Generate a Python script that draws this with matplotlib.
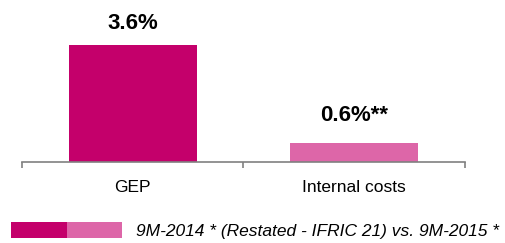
import matplotlib
matplotlib.use("Agg")
import matplotlib.pyplot as plt
from matplotlib.legend_handler import HandlerTuple

categories = ["GEP", "Internal costs"]
values = [3.6, 0.6]
value_labels = ["3.6%", "0.6%**"]
legend_text = "9M-2014 * (Restated - IFRIC 21) vs. 9M-2015 *"

DARK = "#C4006B"
LIGHT = "#DD66A8"
FONT = ["Liberation Sans", "DejaVu Sans"]

plt.rcParams["font.family"] = FONT

fig = plt.figure(figsize=(5.06, 2.43), dpi=100)
ax = fig.add_axes([22 / 506, 81 / 243, 443 / 506, 162 / 243])

x = list(range(len(categories)))
bars = ax.bar(x, values, width=0.58, color=[DARK, LIGHT], zorder=2)

for rect, lab, pad in zip(bars, value_labels, [8, 12]):
    ax.annotate(lab, (rect.get_x() + rect.get_width() / 2, rect.get_height()),
                xytext=(0, pad), textcoords="offset points",
                ha="center", va="bottom", fontsize=16, fontweight="bold")

ax.set_xlim(-0.5, len(categories) - 0.5)
ax.set_ylim(0, 5.0)
ax.set_xticks(x)
ax.set_xticklabels(categories, fontsize=12.5)
ax.tick_params(axis="x", which="major", length=0, pad=13)
ax.set_xticks([i - 0.5 for i in range(len(categories) + 1)], minor=True)
ax.tick_params(axis="x", which="minor", length=4, width=1.2, color="#808080")
ax.set_yticks([])
for s in ["top", "right", "left"]:
    ax.spines[s].set_visible(False)
ax.spines["bottom"].set_color("#808080")
ax.spines["bottom"].set_linewidth(1.2)

leg = fig.legend([(bars[0], bars[1])], [legend_text],
                 handler_map={tuple: HandlerTuple(ndivide=None, pad=0)},
                 loc="lower left", bbox_to_anchor=(4 / 506, -0.012),
                 frameon=False, handlelength=6.4, handleheight=1.0,
                 handletextpad=0.8, borderaxespad=0.0,
                 prop={"family": FONT, "style": "italic", "size": 12.5})

fig.savefig("out.png", dpi=100)
